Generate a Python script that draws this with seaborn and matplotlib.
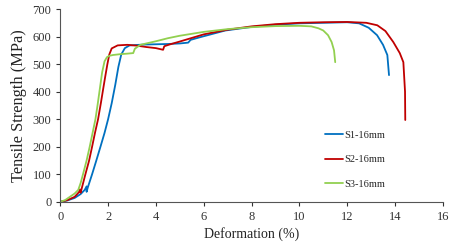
import matplotlib
matplotlib.use("Agg")
import matplotlib.pyplot as plt
import seaborn as sns
import pandas as pd

s1_x = [0, 0.3, 0.6, 0.85, 1.02, 1.1, 1.1, 1.15, 1.33, 1.5, 1.68, 1.85, 2.0, 2.15, 2.3, 2.43, 2.55, 2.7, 2.9, 3.5, 4.0, 4.5, 5.0, 5.35, 5.45, 5.86, 6.9, 8.0, 9.0, 10.0, 11.0, 12.0, 12.5, 12.9, 13.25, 13.5, 13.68, 13.75]
s1_y = [0, 5, 14, 28, 43, 56, 36, 52, 100, 148, 200, 250, 300, 358, 425, 490, 535, 558, 568, 571, 572, 573, 575, 578, 588, 598, 622, 635, 643, 648, 650, 652, 648, 632, 605, 570, 533, 460]

s2_x = [0, 0.3, 0.6, 0.78, 0.82, 0.85, 1.05, 1.2, 1.33, 1.45, 1.58, 1.7, 1.79, 1.88, 1.97, 2.05, 2.15, 2.4, 2.8, 3.2, 3.6, 4.0, 4.3, 4.35, 4.6, 5.0, 5.5, 6.0, 7.0, 8.0, 9.0, 10.0, 11.0, 12.0, 12.8, 13.26, 13.6, 13.93, 14.2, 14.35, 14.42, 14.43]
s2_y = [0, 6, 18, 35, 45, 33, 100, 148, 200, 250, 300, 360, 408, 455, 500, 535, 557, 568, 570, 567, 562, 558, 552, 565, 572, 582, 595, 608, 625, 637, 645, 650, 652, 653, 650, 641, 620, 580, 540, 507, 400, 297]

s3_x = [0, 0.2, 0.4, 0.6, 0.75, 0.85, 0.95, 1.1, 1.23, 1.35, 1.47, 1.56, 1.65, 1.75, 1.85, 1.95, 2.05, 2.2, 2.5, 2.8, 3.05, 3.12, 3.35, 4.0, 4.5, 5.0, 5.5, 6.0, 7.0, 8.0, 9.0, 10.0, 10.5, 10.8, 11.0, 11.2, 11.35, 11.45, 11.5]
s3_y = [0, 6, 18, 30, 43, 68, 100, 150, 200, 250, 300, 352, 408, 470, 510, 525, 530, 533, 536, 538, 540, 556, 570, 583, 594, 603, 610, 617, 627, 634, 638, 639, 637, 630, 622, 605, 580, 550, 507]

labels = ["S1-16mm", "S2-16mm", "S3-16mm"]
colors = ["#0070C0", "#C00000", "#92D050"]

frames = []
for lab, xs, ys in zip(labels, [s1_x, s2_x, s3_x], [s1_y, s2_y, s3_y]):
    frames.append(pd.DataFrame({"x": xs, "y": ys, "series": lab}))
df = pd.concat(frames, ignore_index=True)

sns.set_style("ticks")
plt.rcParams["font.family"] = ["Liberation Serif", "DejaVu Serif"]

fig = plt.figure(figsize=(4.5, 2.44), dpi=100)
ax = fig.add_axes([0.134, 0.173, 0.850, 0.790])

sns.lineplot(data=df, x="x", y="y", hue="series", palette=colors, sort=False,
             estimator=None, units="series", linewidth=1.3, ax=ax, legend=True)

ax.set_xlim(0, 16)
ax.set_ylim(0, 700)
ax.set_xticks(range(0, 17, 2))
ax.set_yticks(range(0, 701, 100))
ax.set_xlabel("Deformation (%)", fontsize=10, color="#222222", labelpad=3)
ax.set_ylabel("Tensile Strength (MPa)", fontsize=11.8, color="#222222", labelpad=4)
ax.tick_params(labelsize=9, colors="#333333", length=3, width=0.8, direction="out")
for s in ["top", "right"]:
    ax.spines[s].set_visible(False)
for s in ["left", "bottom"]:
    ax.spines[s].set_color("#555555")
    ax.spines[s].set_linewidth(0.8)

leg = ax.legend(loc="upper left", bbox_to_anchor=(0.68, 0.39), frameon=False,
                fontsize=7.5, handlelength=1.8, handletextpad=0.1, labelspacing=1.45,
                borderaxespad=0)
for line in leg.get_lines():
    line.set_linewidth(1.3)

fig.savefig("out.png", dpi=100)
